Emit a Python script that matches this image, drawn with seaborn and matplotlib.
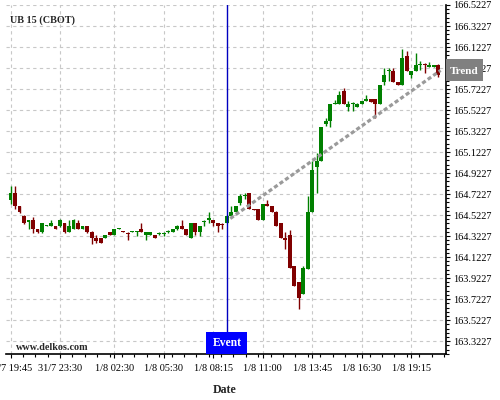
import matplotlib
matplotlib.use("Agg")
import matplotlib.pyplot as plt
import matplotlib.transforms as mtransforms
from matplotlib.patches import Rectangle
from matplotlib.ticker import FixedLocator, FuncFormatter
import numpy as np
import pandas as pd
import seaborn as sns

# 15-minute bars, UB (CBOT)
opens = [164.67, 164.73, 164.61, 164.51, 164.46, 164.48, 164.39, 164.36, 164.42, 164.42,
         164.42, 164.42, 164.45, 164.36, 164.39, 164.45, 164.39, 164.42, 164.36, 164.30,
         164.30, 164.30, 164.36, 164.33, 164.39, 164.37, 164.35, 164.36, 164.36, 164.39,
         164.33, 164.33, 164.33, 164.34, 164.34, 164.36, 164.36, 164.39, 164.42, 164.39,
         164.30, 164.45, 164.36, 164.46, 164.48, 164.48, 164.45, 164.44, 164.45, 164.51,
         164.55, 164.64, 164.70, 164.73, 164.58, 164.58, 164.48, 164.63, 164.61, 164.55,
         164.45, 164.30, 164.33, 164.04, 163.89, 163.77, 164.01, 164.55, 164.98, 165.04,
         165.39, 165.42, 165.58, 165.58, 165.70, 165.55, 165.58, 165.55, 165.58, 165.61,
         165.63, 165.63, 165.58, 165.79, 165.89, 165.89, 165.79, 165.76, 166.04, 165.86,
         165.89, 165.95, 165.96, 165.93, 165.93, 165.95]
highs = [164.80, 164.80, 164.61, 164.52, 164.48, 164.50, 164.39, 164.45, 164.43, 164.48,
         164.42, 164.49, 164.45, 164.48, 164.49, 164.48, 164.42, 164.42, 164.37, 164.33,
         164.30, 164.33, 164.36, 164.39, 164.40, 164.37, 164.36, 164.37, 164.37, 164.45,
         164.36, 164.36, 164.33, 164.36, 164.36, 164.38, 164.39, 164.43, 164.48, 164.39,
         164.45, 164.45, 164.42, 164.48, 164.55, 164.48, 164.45, 164.45, 164.51, 164.61,
         164.61, 164.72, 164.73, 164.73, 164.58, 164.58, 164.63, 164.67, 164.61, 164.56,
         164.45, 164.36, 164.38, 164.04, 163.89, 164.04, 164.70, 165.04, 165.11, 165.36,
         165.45, 165.58, 165.62, 165.70, 165.73, 165.61, 165.60, 165.59, 165.61, 165.67,
         165.63, 165.63, 165.76, 165.92, 165.92, 165.92, 165.79, 166.10, 166.08, 165.89,
         166.07, 165.99, 165.97, 165.98, 165.95, 165.96]
lows = [164.63, 164.58, 164.54, 164.44, 164.39, 164.35, 164.35, 164.35, 164.42, 164.42,
        164.39, 164.41, 164.35, 164.36, 164.39, 164.39, 164.39, 164.35, 164.25, 164.26,
        164.26, 164.30, 164.33, 164.33, 164.39, 164.36, 164.29, 164.36, 164.32, 164.36,
        164.29, 164.33, 164.30, 164.33, 164.32, 164.35, 164.36, 164.38, 164.39, 164.33,
        164.30, 164.33, 164.32, 164.42, 164.45, 164.42, 164.36, 164.39, 164.45, 164.51,
        164.55, 164.62, 164.68, 164.58, 164.57, 164.48, 164.48, 164.61, 164.55, 164.42,
        164.30, 164.20, 164.02, 163.85, 163.63, 163.77, 164.01, 164.55, 164.73, 165.04,
        165.37, 165.36, 165.58, 165.58, 165.58, 165.51, 165.51, 165.55, 165.58, 165.61,
        165.60, 165.45, 165.58, 165.76, 165.80, 165.79, 165.76, 165.76, 165.89, 165.83,
        165.89, 165.90, 165.88, 165.93, 165.93, 165.84]
closes = [164.73, 164.61, 164.55, 164.45, 164.48, 164.39, 164.36, 164.45, 164.43, 164.45,
          164.39, 164.48, 164.36, 164.42, 164.48, 164.39, 164.42, 164.36, 164.30, 164.28,
          164.26, 164.33, 164.33, 164.39, 164.40, 164.36, 164.34, 164.37, 164.37, 164.36,
          164.36, 164.36, 164.30, 164.35, 164.35, 164.37, 164.39, 164.42, 164.39, 164.33,
          164.45, 164.36, 164.42, 164.47, 164.49, 164.45, 164.42, 164.43, 164.51, 164.55,
          164.61, 164.70, 164.71, 164.58, 164.57, 164.48, 164.63, 164.61, 164.55, 164.42,
          164.30, 164.29, 164.02, 163.85, 163.73, 164.02, 164.55, 164.95, 165.04, 165.36,
          165.42, 165.58, 165.59, 165.67, 165.58, 165.58, 165.59, 165.58, 165.61, 165.63,
          165.60, 165.58, 165.76, 165.86, 165.90, 165.79, 165.76, 166.02, 165.89, 165.89,
          165.95, 165.96, 165.95, 165.95, 165.95, 165.86]

tick_pos = [0, 11, 23, 34, 45, 56, 67, 78, 89]
tick_labels = ["31/7 19:45", "31/7 23:30", "1/8 02:30", "1/8 05:30", "1/8 08:15",
               "1/8 11:00", "1/8 13:45", "1/8 16:30", "1/8 19:15"]
price_ticks = [163.3227, 163.5227, 163.7227, 163.9227, 164.1227, 164.3227, 164.5227,
               164.7227, 164.9227, 165.1227, 165.3227, 165.5227, 165.7227, 165.9227,
               166.1227, 166.3227, 166.5227]

event_idx = 48.1
trend_x = [48.8, 95.5]
trend_y = [164.49, 165.90]

sns.set_theme(style="white")
plt.rcParams["font.family"] = ["Liberation Serif", "DejaVu Serif"]

df = pd.DataFrame({"open": opens, "high": highs, "low": lows, "close": closes})
df["idx"] = np.arange(len(df))
df["up"] = df["close"] >= df["open"]
df["color"] = np.where(df["up"], "#008000", "#800000")
df["bottom"] = df[["open", "close"]].min(axis=1)
df["height"] = (df["close"] - df["open"]).abs().clip(lower=0.011)

fig = plt.figure(figsize=(5, 4), dpi=100)
ax = fig.add_axes([6 / 500, 46 / 400, 440 / 500, 349 / 400])

ax.vlines(df["idx"], df["low"], df["high"], colors=df["color"], lw=1.0, zorder=3)
ax.bar(df["idx"], df["height"], bottom=df["bottom"], width=0.86,
       color=df["color"], linewidth=0, zorder=4)

sns.lineplot(x=trend_x, y=trend_y, ax=ax, color="#9a9a9a", lw=2.3,
             linestyle=(0, (1.3, 0.8)), zorder=5)

ax.axvline(event_idx, color="#0000c0", lw=1.0, zorder=6)

ax.set_xlim(-1.0, 96.7)
ax.set_ylim(163.2, 166.5227)

ax.xaxis.set_major_locator(FixedLocator(tick_pos))
ax.set_xticklabels(tick_labels)
ax.xaxis.set_minor_locator(FixedLocator(np.arange(0, 97, 2.75)))
ax.yaxis.tick_right()
ax.yaxis.set_major_locator(FixedLocator(price_ticks))
ax.yaxis.set_major_formatter(FuncFormatter(lambda v, p: f"{v:.4f}"))
ax.yaxis.set_minor_locator(FixedLocator(np.arange(163.2027, 166.53, 0.04)))

ax.tick_params(axis="both", which="both", colors="black", direction="out",
               labelsize=7.4, width=0.8)
ax.tick_params(axis="y", which="major", right=True, left=False, length=3, pad=2)
ax.tick_params(axis="y", which="minor", right=True, left=False, length=2)
ax.tick_params(axis="x", which="major", bottom=True, length=3, pad=4)
ax.tick_params(axis="x", which="minor", bottom=True, length=2)

for side in ["left", "top"]:
    ax.spines[side].set_visible(False)
for side in ["right", "bottom"]:
    ax.spines[side].set_visible(True)
    ax.spines[side].set_color("black")
    ax.spines[side].set_linewidth(1.2)

ax.grid(True, which="major", color="#c8c8c8", linestyle=(0, (3, 3)), lw=0.8)
ax.set_axisbelow(True)
ax.set_xlabel("")
ax.set_ylabel("")

# Event tag at the bottom of the event line
blend_xa = mtransforms.blended_transform_factory(ax.transData, ax.transAxes)
ax.add_patch(Rectangle((event_idx - 4.6, 0), 9.1, 22 / 349, transform=blend_xa,
                       facecolor="#0000ff", edgecolor="none", zorder=7, clip_on=False))
ax.text(event_idx, 11 / 349, "Event", transform=blend_xa, ha="center", va="center",
        color="white", fontweight="bold", fontsize=8.4, zorder=8)

# Trend tag on the price axis
blend_ad = mtransforms.blended_transform_factory(ax.transAxes, ax.transData)
ax.add_patch(Rectangle((1.0, trend_y[1] - 0.105), 37 / 440, 0.21, transform=blend_ad,
                       facecolor="#808080", edgecolor="none", zorder=7, clip_on=False))
ax.text(1.0 + 18.5 / 440, trend_y[1] - 0.01, "Trend", transform=blend_ad, ha="center",
        va="center", color="white", fontweight="bold", fontsize=8.0, zorder=8, clip_on=False)

fig.text(10.5 / 500, 1 - 20.5 / 400, "UB 15 (CBOT)", ha="left", va="center",
         fontweight="bold", fontsize=7.3)
fig.text(15.5 / 500, 1 - 348 / 400, "www.delkos.com", ha="left", va="center",
         fontweight="bold", fontsize=7.3)
fig.text(225 / 500, 1 - 390 / 400, "Date", ha="center", va="center",
         fontweight="bold", fontsize=8.6)

fig.savefig("out.png", dpi=100)
